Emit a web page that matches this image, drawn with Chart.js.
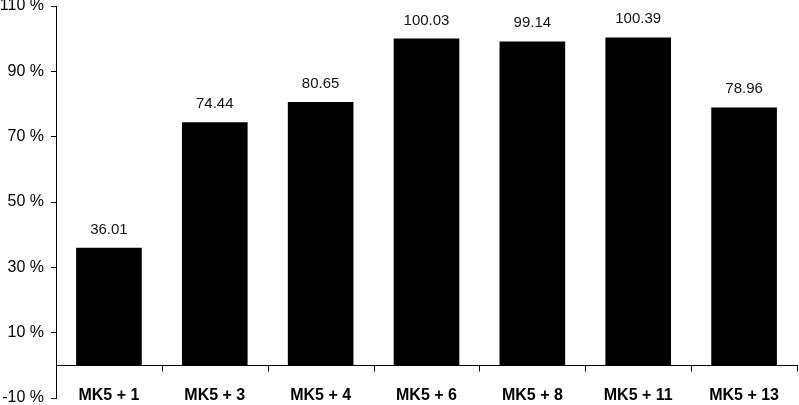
<!DOCTYPE html>
<html>
<head>
<meta charset="utf-8">
<script src="https://cdn.jsdelivr.net/npm/chart.js@4.4.0/dist/chart.umd.min.js"></script>
<style>
  html, body { margin: 0; padding: 0; background: #fff; }
  #wrap { width: 799px; height: 405px; }
</style>
</head>
<body>
<div id="wrap"><canvas id="chart"></canvas></div>
<script>
// data
const categories = ["MK5 + 1", "MK5 + 3", "MK5 + 4", "MK5 + 6", "MK5 + 8", "MK5 + 11", "MK5 + 13"];
const values = [36.01, 74.44, 80.65, 100.03, 99.14, 100.39, 78.96];
const yTicks = [-10, 10, 30, 50, 70, 90, 110];

// value labels over each bar + tick marks under the zero line
const extras = {
  id: "extras",
  afterDatasetsDraw(chart) {
    const ctx = chart.ctx;
    const meta = chart.getDatasetMeta(0);
    ctx.save();
    ctx.font = "15px 'Liberation Sans', Arial, sans-serif";
    ctx.fillStyle = "#111";
    ctx.textAlign = "center";
    ctx.textBaseline = "alphabetic";
    meta.data.forEach((bar, i) => {
      ctx.fillText(values[i].toFixed(2), bar.x, bar.y - 14);
    });

    // category boundary ticks hanging from the zero line
    const xs = chart.scales.x, ys = chart.scales.y;
    const y0 = Math.round(ys.getPixelForValue(0)) + 0.5;
    ctx.strokeStyle = "#000";
    ctx.lineWidth = 1;
    ctx.beginPath();
    for (let i = 1; i <= categories.length; i++) {
      const x = Math.round(xs.getPixelForValue(i - 0.5)) + 0.5;
      ctx.moveTo(x, y0);
      ctx.lineTo(x, y0 + 6);
    }
    ctx.stroke();
    ctx.restore();
  }
};

new Chart(document.getElementById("chart"), {
  type: "bar",
  data: {
    labels: categories,
    datasets: [{
      data: values,
      backgroundColor: "#000",
      borderWidth: 0,
      categoryPercentage: 1,
      barPercentage: 0.62,
    }],
  },
  options: {
    responsive: true,
    maintainAspectRatio: false,
    animation: false,
    layout: { padding: { top: 0, right: 2, bottom: 0, left: 0 } },
    plugins: {
      legend: { display: false },
      tooltip: { enabled: false },
    },
    scales: {
      x: {
        position: { y: 0 },
        offset: true,
        afterFit(scale) {
          scale.paddingLeft = 0;
          scale.paddingRight = 0;
        },
        border: { display: true, color: "#000", width: 1 },
        grid: { display: false },
        ticks: {
          color: "#000",
          padding: 13,
          font: { family: "'Liberation Sans', Arial, sans-serif", size: 16, weight: "bold" },
        },
      },
      y: {
        min: yTicks[0],
        max: yTicks[yTicks.length - 1],
        afterBuildTicks(scale) {
          scale.ticks = yTicks.map(v => ({ value: v }));
        },
        afterFit(scale) {
          scale.width = 56;
          scale.paddingTop = 6;
          scale.paddingBottom = 7;
        },
        border: { display: true, color: "#000", width: 1 },
        grid: { drawOnChartArea: false, drawTicks: true, tickLength: 5, color: "#000" },
        ticks: {
          color: "#000",
          padding: 7,
          font: { family: "'Liberation Sans', Arial, sans-serif", size: 16, lineHeight: 1 },
          callback: v => v + " %",
        },
      },
    },
  },
  plugins: [extras],
});
</script>
</body>
</html>
